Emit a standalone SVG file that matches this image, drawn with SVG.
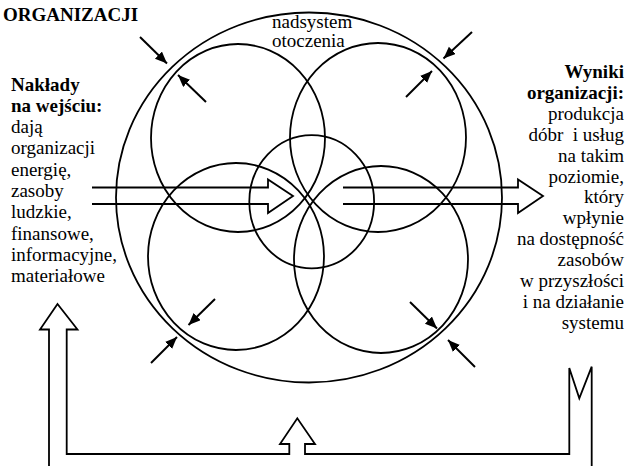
<svg xmlns="http://www.w3.org/2000/svg" width="626" height="466" viewBox="0 0 626 466">
<style>
.ln{fill:none;stroke:#000;stroke-width:1.8}
.ar{fill:none;stroke:#000;stroke-width:2;marker-end:url(#ah)}
.t{font-family:"Liberation Serif","Times New Roman",serif;font-size:19px;fill:#000}
.b{font-weight:bold}
.r{text-anchor:end}
</style>
<defs>
<marker id="ah" markerUnits="userSpaceOnUse" markerWidth="13" markerHeight="11" refX="12" refY="5" orient="auto">
<path d="M0,0 L12,5 L0,10 Z" fill="#000"/>
</marker>
</defs>
<rect width="626" height="466" fill="#fff"/>
<g id="title"><text class="t b" x="3" y="21">ORGANIZACJI</text></g>
<g id="nadsystem">
<ellipse class="ln" cx="309" cy="197.5" rx="193" ry="185"/>
<text class="t" x="272" y="28">nadsystem</text>
<text class="t" x="272" y="47">otoczenia</text>
</g>
<g id="circle-tl"><ellipse class="ln" cx="238" cy="138" rx="87" ry="94"/></g>
<g id="circle-tr"><ellipse class="ln" cx="378" cy="137.5" rx="88" ry="94.5"/></g>
<g id="circle-bl"><ellipse class="ln" cx="236" cy="256.5" rx="88" ry="93.5"/></g>
<g id="circle-br"><ellipse class="ln" cx="381" cy="259.5" rx="87" ry="93.5"/></g>
<g id="circle-c"><ellipse class="ln" cx="311.7" cy="201.7" rx="62.4" ry="66.6"/></g>
<g id="inputs">
<text class="t b" x="11" y="90.5">Nakłady</text>
<text class="t b" x="11" y="111.8">na wejściu:</text>
<text class="t" x="11" y="133.1">dają</text>
<text class="t" x="11" y="154.4">organizacji</text>
<text class="t" x="11" y="175.7">energię,</text>
<text class="t" x="11" y="197">zasoby</text>
<text class="t" x="11" y="218.3">ludzkie,</text>
<text class="t" x="11" y="239.6">finansowe,</text>
<text class="t" x="11" y="260.9">informacyjne,</text>
<text class="t" x="11" y="282.2">materiałowe</text>
</g>
<g id="outputs">
<text class="t b r" x="624" y="78">Wyniki</text>
<text class="t b r" x="624" y="98.9">organizacji:</text>
<text class="t r" x="624" y="119.8">produkcja</text>
<text class="t r" x="624" y="140.7">dóbr&#160; i usług</text>
<text class="t r" x="624" y="161.6">na takim</text>
<text class="t r" x="624" y="182.5">poziomie,</text>
<text class="t r" x="624" y="203.4">który</text>
<text class="t r" x="624" y="224.3">wpłynie</text>
<text class="t r" x="624" y="245.2">na dostępność</text>
<text class="t r" x="624" y="266.1">zasobów</text>
<text class="t r" x="624" y="287">w przyszłości</text>
<text class="t r" x="624" y="307.9">i na działanie</text>
<text class="t r" x="624" y="328.8">systemu</text>
</g>
<g id="connectors">
<polyline class="ln" points="92,187.5 268,187.5 268,179.5 293,196 268,213 268,204 92,204"/>
<polyline class="ln" points="343,187.5 518,187.5 518,179.5 543,196 518,213 518,204 343,204"/>
<line class="ar" x1="140" y1="37" x2="167" y2="63.5"/>
<line class="ar" x1="206" y1="102" x2="178" y2="75"/>
<line class="ar" x1="472" y1="32" x2="443.5" y2="58.5"/>
<line class="ar" x1="406" y1="97" x2="432" y2="71"/>
<line class="ar" x1="215" y1="299" x2="188.5" y2="325"/>
<line class="ar" x1="151" y1="363" x2="177" y2="337"/>
<line class="ar" x1="410" y1="302" x2="437" y2="328.5"/>
<line class="ar" x1="475" y1="367" x2="448" y2="340"/>
<polyline class="ln" points="49,466 49,329.5 40,329.5 57.5,304 77.5,329.5 66.7,329.5 66.7,454 289.3,454 289.3,444 280,444 297.3,418.3 315,444 305,444 305,454 569.3,454 569.3,368 579.3,398.3 591.7,366.7 591.7,466"/>
</g>
</svg>
